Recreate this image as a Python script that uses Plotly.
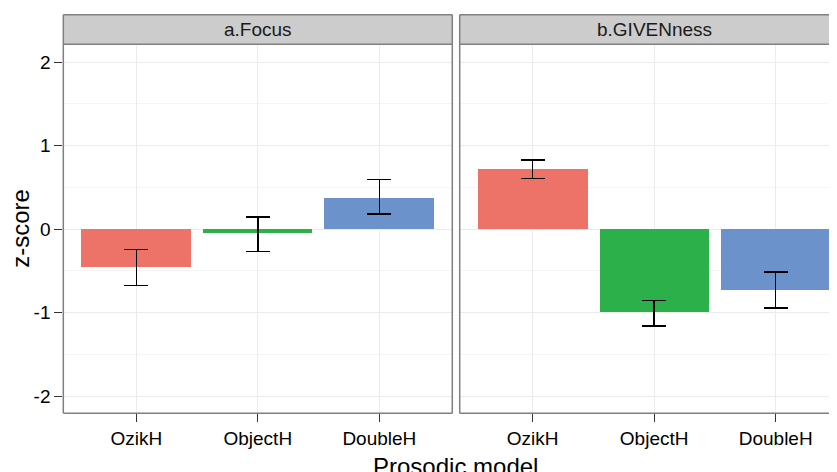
import plotly.graph_objects as go

categories = ["OzikH", "ObjectH", "DoubleH"]
panels = ["a.Focus", "b.GIVENness"]
focus_vals = [-0.463, -0.052, 0.371]
focus_hi = [-0.248, 0.144, 0.590]
focus_lo = [-0.675, -0.267, 0.180]
given_vals = [0.719, -1.002, -0.739]
given_hi = [0.826, -0.854, -0.515]
given_lo = [0.607, -1.162, -0.946]
bar_colors = ["#ED7369", "#2BB04A", "#6B92CA"]
y_ticks = [-2, -1, 0, 1, 2]

W, H = 837, 472
OFF = 8  # page body offset
FONT = "Liberation Sans, Arial, Helvetica, sans-serif"

def px_x(p):
    return (p - OFF) / W

def px_y(p):
    return (H - (p - OFF)) / H

p1 = (63.3, 452.3)
p2 = (459.7, 837.0)
p2_full_right = 848.6
top_px, bot_px = 44.3, 413.3
strip_top = 14.7

fig = go.Figure()

def add_panel(vals, hi, lo, xa, ya):
    fig.add_trace(go.Bar(
        x=categories, y=vals, width=0.9,
        marker=dict(color=bar_colors, line=dict(width=0)),
        error_y=dict(type="data", symmetric=False,
                     array=[h - v for h, v in zip(hi, vals)],
                     arrayminus=[v - l for v, l in zip(vals, lo)],
                     color="black", thickness=1.4, width=12),
        xaxis=xa, yaxis=ya, showlegend=False, hoverinfo="skip"))

add_panel(focus_vals, focus_hi, focus_lo, "x", "y")
add_panel(given_vals, given_hi, given_lo, "x2", "y2")

yrange = [-2.207, 2.212]
common_x = dict(type="category", showgrid=True, gridcolor="#EBEBEB", gridwidth=1.2,
                ticks="outside", ticklen=8, tickcolor="#333333", tickwidth=1.2,
                tickfont=dict(family=FONT, size=19, color="#000000"),
                showline=False, zeroline=False, automargin=False)
fig.update_layout(
    width=W, height=H,
    margin=dict(l=0, r=0, t=0, b=0),
    paper_bgcolor="white", plot_bgcolor="white",
    bargap=0,
    xaxis=dict(**common_x, domain=[px_x(p1[0]), px_x(p1[1])], range=[-0.6, 2.6], anchor="y"),
    xaxis2=dict(**common_x, domain=[px_x(p2[0]), px_x(p2[1])],
                range=[-0.6, 2.6 - (p2_full_right - p2[1]) / 121.5], anchor="y2"),
    yaxis=dict(domain=[px_y(bot_px), px_y(top_px)], range=yrange,
               tickvals=y_ticks, ticktext=[str(t) for t in y_ticks],
               showgrid=True, gridcolor="#EBEBEB", gridwidth=1.2,
               minor=dict(dtick=0.5, tick0=0.5, showgrid=True, gridcolor="#F5F5F5", gridwidth=1),
               ticks="outside", ticklen=8, tickcolor="#333333", tickwidth=1.2,
               tickfont=dict(family=FONT, size=19, color="#000000"),
               zeroline=False, showline=False, automargin=False, anchor="x"),
    yaxis2=dict(domain=[px_y(bot_px), px_y(top_px)], range=yrange,
                tickvals=y_ticks, showticklabels=False,
                showgrid=True, gridcolor="#EBEBEB", gridwidth=1.2,
                minor=dict(dtick=0.5, tick0=0.5, showgrid=True, gridcolor="#F5F5F5", gridwidth=1),
                ticks="", zeroline=False, showline=False, automargin=False, anchor="x2"),
)

shapes = []
border = dict(color="#808080", width=1.5)

def line(x0, y0, x1, y1):
    shapes.append(dict(type="line", xref="paper", yref="paper",
                       x0=px_x(x0), x1=px_x(x1), y0=px_y(y0), y1=px_y(y1),
                       line=border, layer="above"))

# strips (fill)
shapes.append(dict(type="rect", xref="paper", yref="paper",
                   x0=px_x(p1[0]), x1=px_x(p1[1]), y0=px_y(top_px), y1=px_y(strip_top),
                   line=dict(width=0), fillcolor="#CCCCCC", layer="above"))
shapes.append(dict(type="rect", xref="paper", yref="paper",
                   x0=px_x(p2[0]), x1=px_x(p2_full_right), y0=px_y(top_px), y1=px_y(strip_top),
                   line=dict(width=0), fillcolor="#CCCCCC", layer="above"))
# panel 1 borders (full box incl. strip)
line(p1[0], strip_top, p1[1], strip_top)
line(p1[0], top_px, p1[1], top_px)
line(p1[0], bot_px, p1[1], bot_px)
line(p1[0], strip_top, p1[0], bot_px)
line(p1[1], strip_top, p1[1], bot_px)
# panel 2 borders (right side clipped off in the reference)
line(p2[0], strip_top, p2_full_right, strip_top)
line(p2[0], top_px, p2_full_right, top_px)
line(p2[0], bot_px, p2_full_right, bot_px)
line(p2[0], strip_top, p2[0], bot_px)
fig.update_layout(shapes=shapes)

strip_mid = px_y((top_px + strip_top) / 2)
annotations = [
    dict(text=panels[0], x=px_x((p1[0] + p1[1]) / 2), y=strip_mid, xref="paper", yref="paper",
         showarrow=False, xanchor="center", yanchor="middle",
         font=dict(family=FONT, size=19, color="#1A1A1A")),
    dict(text=panels[1], x=px_x((p2[0] + p2_full_right) / 2), y=strip_mid, xref="paper", yref="paper",
         showarrow=False, xanchor="center", yanchor="middle",
         font=dict(family=FONT, size=19, color="#1A1A1A")),
    dict(text="Prosodic model", x=px_x((p1[0] + p2_full_right) / 2), y=px_y(466), xref="paper", yref="paper",
         showarrow=False, xanchor="center", yanchor="middle",
         font=dict(family=FONT, size=24, color="#000000")),
    dict(text="z-score", x=px_x(21), y=px_y((top_px + bot_px) / 2), xref="paper", yref="paper",
         showarrow=False, xanchor="center", yanchor="middle", textangle=-90,
         font=dict(family=FONT, size=24, color="#000000")),
]
fig.update_layout(annotations=annotations)

fig.write_html("out.html")
